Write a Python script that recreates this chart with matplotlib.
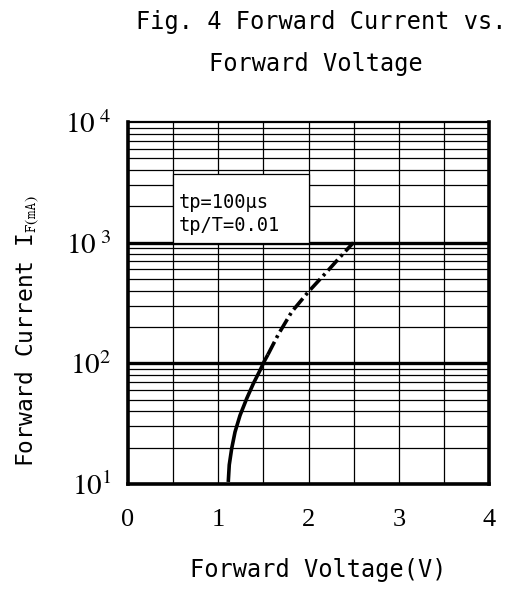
import numpy as np
import matplotlib
matplotlib.use("Agg")
import matplotlib.pyplot as plt
from matplotlib.patches import Rectangle

# curve: forward voltage (V) -> forward current (mA)
v_solid = [1.111, 1.122, 1.149, 1.186, 1.241, 1.315, 1.389, 1.463, 1.510, 1.550]
i_solid = [10.4, 14.4, 19.7, 27.0, 37.0, 51.0, 68.0, 87.5, 104.0, 118.0]
v_dash = [1.550, 1.666, 1.814, 1.998, 2.202, 2.350, 2.497]
i_dash = [118.0, 174.0, 267.0, 391.0, 572.0, 760.0, 1000.0]

x_ticks = [0, 1, 2, 3, 4]
y_ticks = [10, 100, 1000, 10000]
y_ticklabels = [r"$10^{1}$", r"$10^{2}$", r"$10^{\ 3}$", r"$10^{\ 4}$"]
note_lines = ["tp=100\u03bcs", "tp/T=0.01"]

MONO = "DejaVu Sans Mono"
plt.rcParams["mathtext.fontset"] = "stix"
W, H = 521, 589
fig = plt.figure(figsize=(W / 100, H / 100), dpi=100)
ax = fig.add_axes([128 / W, 1 - 484 / H, (489 - 128) / W, (484 - 122) / H])
ax.set_xlim(0, 4)
ax.set_yscale("log")
ax.set_ylim(10, 10000)

# grid
for xv in np.arange(0.5, 4.0, 0.5):
    ax.axvline(xv, color="black", lw=0.9, zorder=1)
for dec in [10, 100, 1000]:
    for m in range(2, 10):
        ax.axhline(dec * m, color="black", lw=0.9, zorder=1)
for yv in [100, 1000]:
    ax.axhline(yv, color="black", lw=2.4, zorder=2)

# white box behind the note
ax.add_patch(Rectangle((0.5, 1000), 1.5, 2700, facecolor="white",
                       edgecolor="black", lw=0.9, zorder=3))
ax.text(0.56, 2150, note_lines[0], fontsize=13.5, family=MONO,
        va="center", zorder=4)
ax.text(0.56, 1380, note_lines[1], fontsize=13.5, family=MONO,
        va="center", zorder=4)

ax.plot(v_solid, i_solid, color="black", lw=2.6, zorder=5,
        solid_capstyle="butt")
ax.plot(v_dash, i_dash, color="black", lw=2.6, zorder=5,
        dashes=(4.0, 1.2, 0.8, 1.2), dash_capstyle="butt")

ax.set_xticks(x_ticks)
ax.set_xticklabels([str(t) for t in x_ticks], fontsize=19,
                   family="Liberation Serif")
ax.set_yticks(y_ticks)
ax.set_yticklabels(y_ticklabels, fontsize=21)
ax.yaxis.set_minor_locator(matplotlib.ticker.NullLocator())
ax.tick_params(axis="x", length=0, pad=18)
ax.tick_params(axis="y", length=0, pad=12)

for s in ["left", "bottom", "right"]:
    ax.spines[s].set_linewidth(2.6)
ax.spines["top"].set_linewidth(1.6)
for s in ax.spines.values():
    s.set_zorder(6)

fig.text(321 / W, 1 - 22 / H, "Fig. 4 Forward Current vs.", ha="center",
         va="center", fontsize=17, family=MONO)
fig.text(316 / W, 1 - 64 / H, "Forward Voltage", ha="center", va="center",
         fontsize=17, family=MONO)
fig.text(318 / W, 1 - 570 / H, "Forward Voltage(V)", ha="center",
         va="center", fontsize=17, family=MONO)
fig.text(27 / W, 1 - 331 / H, r"Forward Current I$_{\mathtt{F(mA)}}$",
         rotation=90, ha="center", va="center", fontsize=16.5, family=MONO)

fig.savefig("out.png", dpi=100)
